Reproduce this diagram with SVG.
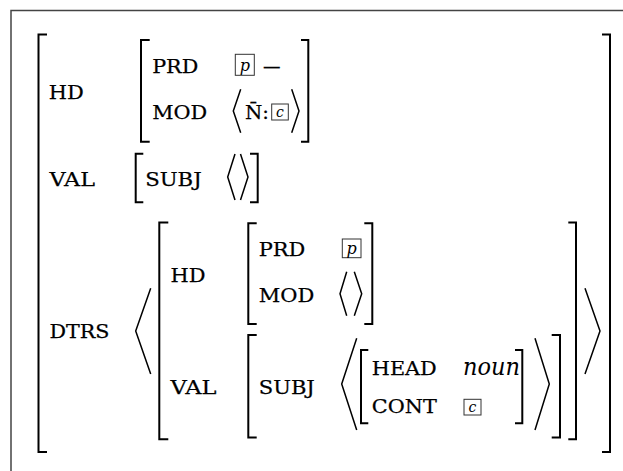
<svg xmlns="http://www.w3.org/2000/svg" width="623" height="471" viewBox="0 0 623 471">
<style>
.t{font-family:"DejaVu Serif","Liberation Serif",serif;font-size:19px;fill:#000;stroke:#000;stroke-width:0.25}
.i{font-family:"DejaVu Serif","Liberation Serif",serif;font-style:italic;fill:#000}
.br{fill:none;stroke:#000;stroke-width:2;stroke-linejoin:miter}
.an{fill:none;stroke:#000;stroke-width:1.5;stroke-linejoin:miter}
.tag{fill:none;stroke:#333;stroke-width:1}
</style>
<rect width="623" height="471" fill="#fff"/>
<path d="M11,471 V10.5 H623" fill="none" stroke="#444" stroke-width="1.5"/>
<g id="brackets">
<path class="br" d="M47,34.5 H38.5 V452 H47"/>
<path class="br" d="M602,34.5 H610 V452 H602"/>
<path class="br" d="M149.7,40 H141 V141.7 H149.7"/>
<path class="br" d="M301,40 H308.3 V141.7 H301"/>
<path class="br" d="M143.3,153.7 H135.7 V202.3 H143.3"/>
<path class="br" d="M250,153.7 H257.7 V202.3 H250"/>
<path class="br" d="M168.3,222.5 H159.3 V439.3 H168.3"/>
<path class="br" d="M568.3,222.5 H576 V439.3 H568.3"/>
<path class="br" d="M256.7,223.3 H248.3 V324 H256.7"/>
<path class="br" d="M364.3,223.3 H372.3 V324 H364.3"/>
<path class="br" d="M256.7,335 H248.3 V437.5 H256.7"/>
<path class="br" d="M551.7,335 H560 V437.5 H551.7"/>
<path class="br" d="M368.3,350 H361 V423.3 H368.3"/>
<path class="br" d="M515,350 H522.3 V423.3 H515"/>
</g>
<g id="angles">
<path class="an" d="M240.7,89.3 L233.3,111 L240.7,132.7"/>
<path class="an" d="M291.7,89.3 L299,111 L291.7,132.7"/>
<path class="an" d="M235,154 L227.7,177 L235,200"/>
<path class="an" d="M240.5,154 L248,177 L240.5,200"/>
<path class="an" d="M150.7,288.3 L135.7,331 L150.7,374"/>
<path class="an" d="M585,288.3 L600,331 L585,374"/>
<path class="an" d="M346.7,271.7 L340,293.7 L346.7,315.7"/>
<path class="an" d="M354.3,271.7 L361.7,293.7 L354.3,315.7"/>
<path class="an" d="M356.7,338.3 L341.7,384 L356.7,430"/>
<path class="an" d="M535,338.3 L549.3,384 L535,430"/>
</g>
<g id="labels">
<text class="t" x="48.8" y="98.8" textLength="35" lengthAdjust="spacingAndGlyphs">HD</text>
<text class="t" x="152.2" y="72.7" textLength="46" lengthAdjust="spacingAndGlyphs">PRD</text>
<text class="t" x="152.2" y="119.3" textLength="55" lengthAdjust="spacingAndGlyphs">MOD</text>
<text class="t" x="49.5" y="185.7" textLength="45.5" lengthAdjust="spacingAndGlyphs">VAL</text>
<text class="t" x="145.2" y="185.7" textLength="56.5" lengthAdjust="spacingAndGlyphs">SUBJ</text>
<text class="t" x="49.5" y="338.3" textLength="60" lengthAdjust="spacingAndGlyphs">DTRS</text>
<text class="t" x="170.5" y="281.7" textLength="35" lengthAdjust="spacingAndGlyphs">HD</text>
<text class="t" x="170.5" y="394" textLength="46" lengthAdjust="spacingAndGlyphs">VAL</text>
<text class="t" x="258.8" y="255.7" textLength="46.5" lengthAdjust="spacingAndGlyphs">PRD</text>
<text class="t" x="258.8" y="301.7" textLength="55.5" lengthAdjust="spacingAndGlyphs">MOD</text>
<text class="t" x="258.8" y="394" textLength="56" lengthAdjust="spacingAndGlyphs">SUBJ</text>
<text class="t" x="371.8" y="374.5" textLength="65" lengthAdjust="spacingAndGlyphs">HEAD</text>
<text class="t" x="371.8" y="413.3" textLength="65" lengthAdjust="spacingAndGlyphs">CONT</text>
<text class="i" x="463" y="374.5" font-size="25" textLength="57" lengthAdjust="spacingAndGlyphs">noun</text>
</g>
<g id="values">
<rect class="tag" x="235.3" y="54.3" width="19" height="21"/>
<text class="i" x="244.8" y="70.5" font-size="16" text-anchor="middle">p</text>
<text class="t" x="263" y="72.7" textLength="17.5" lengthAdjust="spacingAndGlyphs">—</text>
<text class="t" x="245" y="119.3" textLength="24" lengthAdjust="spacingAndGlyphs">N̄:</text>
<rect class="tag" x="271.7" y="104" width="16.6" height="16"/>
<text class="i" x="280" y="116.5" font-size="14" text-anchor="middle">c</text>
<rect class="tag" x="342.3" y="239" width="18.7" height="18.7"/>
<text class="i" x="351.6" y="253.5" font-size="16" text-anchor="middle">p</text>
<rect class="tag" x="464" y="399.3" width="17" height="15.7"/>
<text class="i" x="472.5" y="411.5" font-size="14" text-anchor="middle">c</text>
</g>
</svg>
